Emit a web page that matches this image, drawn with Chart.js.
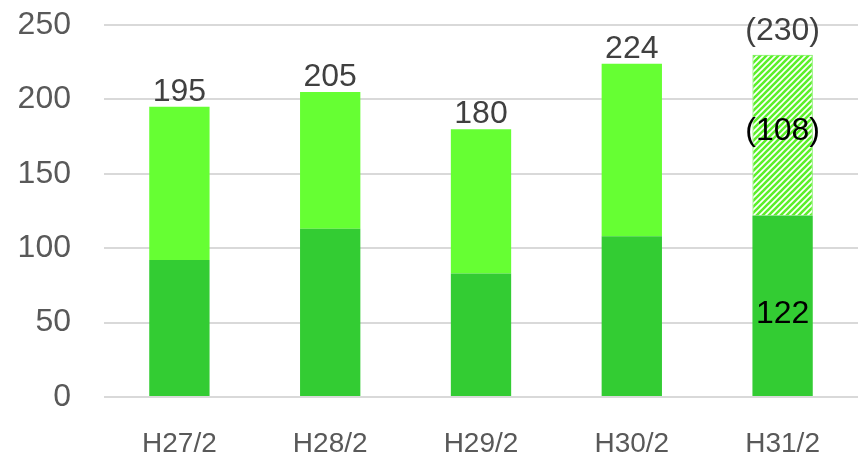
<!doctype html>
<html lang="ja">
<head>
<meta charset="UTF-8">
<title>H27-H31</title>
<script src="https://cdn.jsdelivr.net/npm/chart.js"></script>
<style>
  body { margin: 0; background: #fff; }
  #chart { display: block; }
</style>
</head>
<body>
<canvas id="chart" width="858" height="457"></canvas>
<script>
const categories = ['H27/2', 'H28/2', 'H29/2', 'H30/2', 'H31/2'];
const lowerValues = [92, 113, 83, 108, 122];
const upperValues = [103, 92, 97, 116, null];
const planValues = [null, null, null, null, 108];
const yTicks = [0, 50, 100, 150, 200, 250];

const FONT = 'Liberation Sans';

// diagonal hatch for the forecast part
function makeHatch() {
  const c = document.createElement('canvas');
  c.width = 6; c.height = 6;
  const g = c.getContext('2d');
  g.fillStyle = '#ffffff';
  g.fillRect(0, 0, 6, 6);
  g.strokeStyle = '#5cf02a';
  g.lineWidth = 2.6;
  g.beginPath();
  g.moveTo(-1, 7); g.lineTo(7, -1);
  g.moveTo(-4, 4); g.lineTo(4, -4);
  g.moveTo(2, 10); g.lineTo(10, 2);
  g.stroke();
  return g.createPattern(c, 'repeat');
}

const labelPlugin = {
  id: 'barLabels',
  afterDatasetsDraw(chart) {
    const ctx = chart.ctx;
    const y = chart.scales.y;
    ctx.save();
    ctx.font = '32px "' + FONT + '"';
    ctx.textAlign = 'center';
    categories.forEach((cat, i) => {
      const x = chart.getDatasetMeta(0).data[i].x;
      const total = (lowerValues[i] || 0) + (upperValues[i] || 0) + (planValues[i] || 0);
      const planned = planValues[i] != null;
      ctx.fillStyle = '#404040';
      ctx.textBaseline = 'alphabetic';
      ctx.fillText(planned ? '(' + total + ')' : String(total), x, y.getPixelForValue(total) - (planned ? 15 : 6));
      if (planned) {
        ctx.fillStyle = '#000000';
        ctx.textBaseline = 'middle';
        const lo = lowerValues[i];
        ctx.fillText('(' + planValues[i] + ')', x, y.getPixelForValue(lo + planValues[i] / 2) - 4);
        ctx.fillText(String(lo), x, y.getPixelForValue(lo / 2) + 8);
      }
    });
    ctx.restore();
  }
};

new Chart(document.getElementById('chart'), {
  type: 'bar',
  data: {
    labels: categories,
    datasets: [
      { data: lowerValues, backgroundColor: '#33cc33', borderWidth: 0 },
      { data: upperValues, backgroundColor: '#66ff33', borderWidth: 0 },
      { data: planValues, backgroundColor: makeHatch(), borderColor: '#66ee44', borderWidth: 1 }
    ]
  },
  options: {
    responsive: false,
    animation: false,
    categoryPercentage: 1,
    barPercentage: 0.4,
    layout: { padding: 0 },
    plugins: { legend: { display: false }, tooltip: { enabled: false } },
    scales: {
      x: {
        stacked: true,
        grid: { display: false },
        border: { display: false },
        afterFit: s => { s.height = 60; },
        ticks: { color: '#595959', font: { family: FONT, size: 28 }, padding: 22 }
      },
      y: {
        stacked: true,
        min: 0,
        max: 250,
        afterBuildTicks: s => { s.ticks = yTicks.map(v => ({ value: v })); },
        afterFit: s => { s.width = 104; s.paddingTop = 25; s.paddingBottom = 0; },
        grid: { color: '#d9d9d9', lineWidth: 2, drawTicks: false },
        border: { display: false },
        ticks: { color: '#595959', font: { family: FONT, size: 32 }, padding: 33 }
      }
    }
  },
  plugins: [labelPlugin]
});
</script>
</body>
</html>
